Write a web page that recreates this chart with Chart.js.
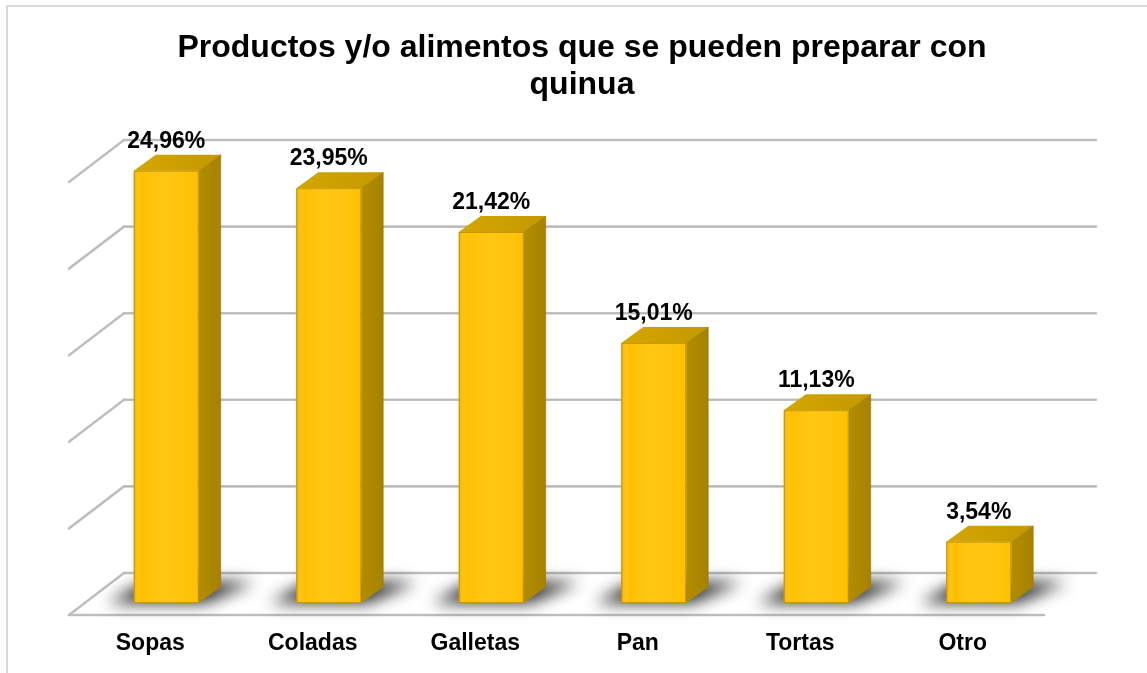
<!DOCTYPE html>
<html>
<head>
<meta charset="utf-8">
<script src="https://cdn.jsdelivr.net/npm/chart.js@4.4.1/dist/chart.umd.min.js"></script>
<style>
  html, body { margin: 0; padding: 0; background: #ffffff; }
  #wrap { position: relative; width: 1147px; height: 673px; }
  canvas { display: block; }
</style>
</head>
<body>
<div id="wrap"><canvas id="c" width="1147" height="673"></canvas></div>
<script>
// Data
const categories = ['Sopas', 'Coladas', 'Galletas', 'Pan', 'Tortas', 'Otro'];
const percentages = [24.96, 23.95, 21.42, 15.01, 11.13, 3.54];
const titleLines = ['Productos y/o alimentos que se pueden preparar con', 'quinua'];
const axisMin = 0;
const axisMax = 25;
const axisStep = 5;

// Pseudo-3D geometry (offsets relative to the plane of the bars' front faces)
const FLOOR_FRONT = { dx: -16, dy: 12 };
const BACK_WALL = { dx: 39, dy: -30 };
const BAR_DEPTH = { dx: 22, dy: -16 };
const FONT = '"Liberation Sans", Arial, Helvetica, sans-serif';

const fmtPct = v => v.toFixed(2).replace('.', ',') + '%';

const gridValues = [];
for (let v = axisMin; v <= axisMax + 1e-9; v += axisStep) gridValues.push(v);

const scene3d = {
  id: 'scene3d',
  beforeDatasetsDraw(chart) {
    const ctx = chart.ctx;
    const area = chart.chartArea;
    const ys = chart.scales.y;
    ctx.save();

    // outer frame (left and top edges)
    ctx.strokeStyle = '#D9D9D9';
    ctx.lineWidth = 2;
    ctx.beginPath();
    ctx.moveTo(7, 673);
    ctx.lineTo(7, 6);
    ctx.lineTo(1147, 6);
    ctx.stroke();

    // back wall gridlines and side wall diagonals
    ctx.lineCap = 'round';
    gridValues.forEach(v => {
      const p = ys.getPixelForValue(v);
      const bx0 = area.left + BACK_WALL.dx;
      const bx1 = area.right + BACK_WALL.dx - 3;
      const by = p + BACK_WALL.dy;
      const fx = area.left + FLOOR_FRONT.dx;
      const fy = p + FLOOR_FRONT.dy;
      ctx.strokeStyle = '#C6C6C6';
      ctx.lineWidth = 2.6;
      ctx.beginPath();
      ctx.moveTo(bx0, by);
      ctx.lineTo(bx1, by);
      ctx.stroke();
      ctx.beginPath();
      ctx.moveTo(fx, fy);
      ctx.lineTo(bx0, by);
      ctx.stroke();
      ctx.strokeStyle = '#B4B4B4';
      ctx.lineWidth = 1;
      ctx.beginPath();
      ctx.moveTo(bx0, by);
      ctx.lineTo(bx1, by);
      ctx.moveTo(fx, fy);
      ctx.lineTo(bx0, by);
      ctx.stroke();
    });

    // floor front edge
    const p0 = ys.getPixelForValue(axisMin);
    ctx.strokeStyle = '#C6C6C6';
    ctx.lineWidth = 2.6;
    ctx.beginPath();
    ctx.moveTo(area.left + FLOOR_FRONT.dx, p0 + FLOOR_FRONT.dy);
    ctx.lineTo(area.right + FLOOR_FRONT.dx, p0 + FLOOR_FRONT.dy);
    ctx.stroke();
    ctx.strokeStyle = '#B4B4B4';
    ctx.lineWidth = 1;
    ctx.stroke();

    // soft shadows under each bar
    const meta = chart.getDatasetMeta(0);
    ctx.filter = 'blur(8px)';
    ctx.fillStyle = 'rgba(0,0,0,0.85)';
    meta.data.forEach(bar => {
      const w = bar.width;
      const xL = bar.x - w / 2;
      const xR = bar.x + w / 2;
      const b = bar.base;
      ctx.beginPath();
      ctx.moveTo(xL - 26, b);
      ctx.lineTo(xR + 6, b);
      ctx.lineTo(xR + BAR_DEPTH.dx + 34, b + BAR_DEPTH.dy - 5);
      ctx.lineTo(xL + 12, b + BAR_DEPTH.dy - 5);
      ctx.closePath();
      ctx.fill();
    });
    ctx.filter = 'none';
    ctx.restore();
  },
  afterDatasetsDraw(chart) {
    const ctx = chart.ctx;
    const meta = chart.getDatasetMeta(0);
    const data = chart.data.datasets[0].data;
    ctx.save();
    meta.data.forEach((bar, i) => {
      const w = bar.width;
      const xL = bar.x - w / 2;
      const xR = bar.x + w / 2;
      const yT = bar.y;
      const b = bar.base;
      const dx = BAR_DEPTH.dx, dy = BAR_DEPTH.dy;

      // front face shading
      const fg = ctx.createLinearGradient(xL, 0, xR, 0);
      fg.addColorStop(0, 'rgba(215,150,0,0.35)');
      fg.addColorStop(0.12, 'rgba(255,255,255,0)');
      fg.addColorStop(0.45, 'rgba(255,235,120,0.15)');
      fg.addColorStop(1, 'rgba(255,255,255,0)');
      ctx.fillStyle = fg;
      ctx.fillRect(xL, yT, w, b - yT);

      // side face
      const sg = ctx.createLinearGradient(xR, 0, xR + dx, 0);
      sg.addColorStop(0, '#B38D00');
      sg.addColorStop(1, '#A58200');
      ctx.fillStyle = sg;
      ctx.beginPath();
      ctx.moveTo(xR, yT);
      ctx.lineTo(xR + dx, yT + dy);
      ctx.lineTo(xR + dx, b + dy);
      ctx.lineTo(xR, b);
      ctx.closePath();
      ctx.fill();

      // top face
      const tg = ctx.createLinearGradient(xL, 0, xR + dx, 0);
      tg.addColorStop(0, '#D4A600');
      tg.addColorStop(1, '#C49900');
      ctx.fillStyle = tg;
      ctx.beginPath();
      ctx.moveTo(xL, yT);
      ctx.lineTo(xL + dx, yT + dy);
      ctx.lineTo(xR + dx, yT + dy);
      ctx.lineTo(xR, yT);
      ctx.closePath();
      ctx.fill();

      // edges
      ctx.strokeStyle = 'rgba(160,115,0,0.55)';
      ctx.lineWidth = 1;
      ctx.beginPath();
      ctx.rect(xL + 0.5, yT + 0.5, w - 1, b - yT - 1);
      ctx.moveTo(xR, yT);
      ctx.lineTo(xR + dx, yT + dy);
      ctx.lineTo(xR + dx, b + dy);
      ctx.stroke();

      // value label
      ctx.fillStyle = '#000000';
      ctx.font = 'bold 23px ' + FONT;
      ctx.textAlign = 'center';
      ctx.textBaseline = 'alphabetic';
      ctx.fillText(fmtPct(data[i]), bar.x, yT + dy - 7);

      // category label on the floor's front edge
      ctx.fillText(chart.data.labels[i], bar.x + FLOOR_FRONT.dx, 650);
    });

    // title
    ctx.font = 'bold 32px ' + FONT;
    ctx.fillText(titleLines[0], 582, 57);
    ctx.fillText(titleLines[1], 582, 94);
    ctx.restore();
  }
};

new Chart(document.getElementById('c'), {
  type: 'bar',
  data: {
    labels: categories,
    datasets: [{
      data: percentages,
      backgroundColor: '#FFC000',
      borderWidth: 0,
      barPercentage: 0.4,
      categoryPercentage: 1.0
    }]
  },
  options: {
    responsive: false,
    animation: false,
    events: [],
    layout: { padding: { left: 85, right: 87, top: 170, bottom: 70 } },
    plugins: {
      legend: { display: false },
      tooltip: { enabled: false },
      title: { display: false }
    },
    scales: {
      x: { display: false, offset: true },
      y: { display: false, min: axisMin, max: axisMax, ticks: { stepSize: axisStep } }
    }
  },
  plugins: [scene3d]
});
</script>
</body>
</html>
